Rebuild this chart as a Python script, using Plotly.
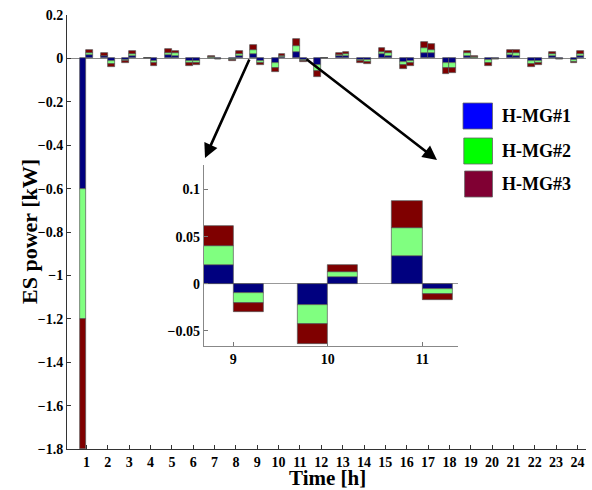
import plotly.graph_objects as go

# ---------------- data ----------------
hours = list(range(1, 25))
series_names = ["H-MG#1", "H-MG#2", "H-MG#3"]

# first (left) half-bar of each hour
mg1_a = [-0.6, 0.011, -0.008, 0.0, 0.014, -0.010, 0.004, -0.005, 0.020, -0.022, 0.030, -0.030,
         0.009, -0.007, 0.018, -0.015, 0.023, -0.020, 0.012, -0.008, 0.014, -0.012, 0.012, -0.008]
mg2_a = [-0.6, 0.002, -0.003, 0.0, 0.013, -0.011, 0.003, -0.002, 0.020, -0.021, 0.029, -0.027,
         0.008, -0.005, 0.012, -0.015, 0.026, -0.026, 0.011, -0.012, 0.010, -0.014, 0.007, -0.008]
mg3_a = [-0.6, 0.010, -0.012, 0.0, 0.016, -0.012, 0.004, -0.004, 0.021, -0.021, 0.029, -0.028,
         0.009, -0.008, 0.020, -0.017, 0.025, -0.026, 0.012, -0.014, 0.017, -0.015, 0.012, -0.007]
# second (right) half-bar of each hour
mg1_b = [0.014, -0.012, 0.011, -0.010, 0.013, -0.010, -0.001, 0.011, -0.010, 0.007, -0.006, 0.0,
         0.011, -0.009, 0.012, -0.010, 0.023, -0.020, 0.003, -0.002, 0.013, -0.010, -0.001, 0.011]
mg2_b = [0.009, -0.012, 0.011, -0.012, 0.010, -0.011, -0.0005, 0.009, -0.010, 0.006, -0.005, 0.0,
         0.009, -0.008, 0.011, -0.012, 0.018, -0.023, 0.004, -0.001, 0.011, -0.010, -0.001, 0.011]
mg3_b = [0.015, -0.014, 0.012, -0.012, 0.012, -0.011, -0.0005, 0.014, -0.010, 0.007, -0.006, 0.0,
         0.011, -0.009, 0.012, -0.012, 0.025, -0.022, 0.002, -0.002, 0.014, -0.011, -0.001, 0.012]

bar_colors = ["#00007F", "#80FF80", "#7F0000"]      # bar fills
legend_colors = ["#0000FF", "#00FF00", "#800033"]   # legend swatches

y_ticks_main = [0.2, 0, -0.2, -0.4, -0.6, -0.8, -1, -1.2, -1.4, -1.6, -1.8]
y_ticks_inset = [-0.05, 0, 0.05, 0.1]
x_ticks_inset = [9, 10, 11]

# ---------------- layout constants ----------------
W, H = 592, 490
ML, MR, MT, MB = 67, 6, 15, 41
PW, PH = W - ML - MR, H - MT - MB
OFF, BW = 0.16, 0.32


def px(x):
    return (x - ML) / PW


def py(y):
    return (H - MB - y) / PH


font_fam = "Liberation Serif"

fig = go.Figure()
a_list = [mg1_a, mg2_a, mg3_a]
b_list = [mg1_b, mg2_b, mg3_b]
xs = [h - OFF for h in hours] + [h + OFF for h in hours]
for i in range(3):
    ys = a_list[i] + b_list[i]
    for xa, ya in (("x", "y"), ("x2", "y2")):
        fig.add_trace(go.Bar(
            x=xs, y=ys, width=BW, name=series_names[i],
            marker=dict(color=bar_colors[i], line=dict(color="#555555", width=0.7)),
            xaxis=xa, yaxis=ya, showlegend=False, hoverinfo="skip",
        ))

axis_font = dict(family=font_fam, size=14, color="black", weight="bold")

fig.update_layout(
    width=W, height=H, barmode="relative", bargap=0,
    margin=dict(l=ML, r=MR, t=MT, b=MB, autoexpand=False),
    paper_bgcolor="white", plot_bgcolor="white",
    showlegend=False,
    xaxis=dict(range=[0.087, 24.4], tickmode="array", tickvals=hours,
               ticktext=[str(h) for h in hours],
               ticks="inside", ticklen=4, tickcolor="#333", showline=True,
               linecolor="#333", linewidth=1, showgrid=False, zeroline=False,
               tickfont=axis_font, domain=[0, 1], automargin=False),
    yaxis=dict(range=[-1.8, 0.2], tickmode="array", tickvals=y_ticks_main,
               ticktext=[("−" if v < 0 else "") + ("%g" % abs(v)) for v in y_ticks_main],
               ticks="inside", ticklen=4, tickcolor="#333", showline=True,
               linecolor="#333", linewidth=1, showgrid=False, zeroline=True,
               zerolinecolor="#888", zerolinewidth=1, tickfont=axis_font, domain=[0, 1],
               automargin=False),
    xaxis2=dict(range=[8.687, 11.375], tickmode="array", tickvals=x_ticks_inset,
                ticks="inside", ticklen=4, tickcolor="#777", showline=True,
                linecolor="#888", linewidth=1, showgrid=False, zeroline=False,
                tickfont=axis_font, anchor="y2",
                domain=[px(203.7), px(457.7)]),
    yaxis2=dict(range=[-0.066, 0.126], tickmode="array", tickvals=y_ticks_inset,
                ticktext=["−0.05", "0", "0.05", "0.1"],
                ticks="inside", ticklen=4, tickcolor="#777", showline=True,
                linecolor="#888", linewidth=1, showgrid=False, zeroline=True,
                zerolinecolor="#999", zerolinewidth=1, tickfont=axis_font, anchor="x2",
                domain=[py(346), py(165)]),
)

annotations = [
    dict(text="ES power [kW]", xref="paper", yref="paper", x=px(29), y=py(232),
         xanchor="center", yanchor="middle",
         textangle=-90, showarrow=False,
         font=dict(family=font_fam, size=22, color="black", weight="bold")),
    dict(text="Time [h]", xref="paper", yref="paper", x=px(327), y=py(478),
         xanchor="center", yanchor="middle",
         showarrow=False, font=dict(family=font_fam, size=21, color="black", weight="bold")),
    dict(x=px(205), y=py(158), xref="paper", yref="paper", ax=45, ay=-100,
         showarrow=True, arrowhead=2, arrowsize=1.1, arrowwidth=2.6, arrowcolor="black", text=""),
    dict(x=px(437), y=py(160), xref="paper", yref="paper", ax=-132, ay=-102,
         showarrow=True, arrowhead=2, arrowsize=1.1, arrowwidth=2.6, arrowcolor="black", text=""),
]
shapes = []
box_tops = [103, 138, 171]
for i in range(3):
    t = box_tops[i]
    shapes.append(dict(type="rect", xref="paper", yref="paper",
                       x0=px(463 + i * 0.8), x1=px(492.5), y0=py(t + 26), y1=py(t),
                       fillcolor=legend_colors[i], line=dict(color="#666", width=0.8)))
    annotations.append(dict(text=series_names[i], xref="paper", yref="paper",
                            x=px(500), y=py(t + 13), xanchor="left", yanchor="middle",
                            showarrow=False,
                            font=dict(family=font_fam, size=18, color="black", weight="bold")))

fig.update_layout(annotations=annotations, shapes=shapes)
fig.write_html("out.html", config={"displayModeBar": False},
               post_script="document.body.style.margin='0';document.body.style.overflow='hidden';")
